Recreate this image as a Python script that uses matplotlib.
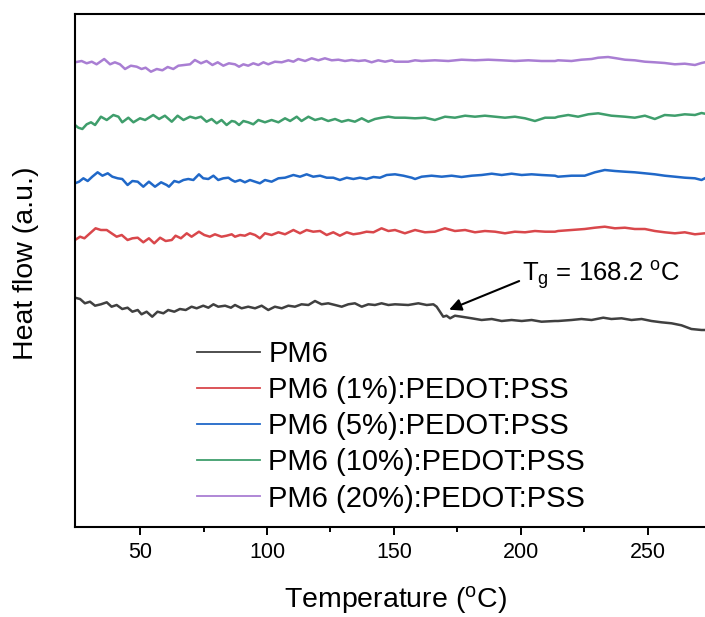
import matplotlib
matplotlib.use('Agg')
import matplotlib.pyplot as plt

plt.rcParams['font.family'] = ['Liberation Sans', 'DejaVu Sans']
plt.rcParams['mathtext.fontset'] = 'custom'
plt.rcParams['mathtext.rm'] = 'Liberation Sans'
plt.rcParams['mathtext.it'] = 'Liberation Sans:italic'

# DSC curves, heat flow in arbitrary units (already stacked)
t_pm6 = [24.4, 26.4, 28.3, 30.3, 32.3, 34.6, 36.9, 38.8, 40.8, 43.0, 45.1, 47.0, 49.1, 50.6, 52.6, 54.8,
         56.9, 59.2, 61.1, 63.5, 65.7, 68.0, 70.3, 72.3, 74.9, 76.9, 78.9, 80.8, 83.5, 85.8, 87.4,
         90.0, 92.6, 95.3, 97.9, 100.5, 103.1, 105.8, 108.4, 111.0, 113.6, 116.3, 118.9, 121.5, 124.1,
         126.8, 129.4, 132.0, 134.6, 137.3, 139.9, 142.5, 145.1, 147.8, 150.4,
         155.6, 159.6, 162.9, 165.5, 166.8, 168.1, 169.4, 170.7, 172.1, 174.0, 176.6, 180.6, 184.5,
         188.5, 192.4, 196.3, 200.3, 204.2, 208.1, 213.4,
         214.6, 219.9, 223.8, 227.8, 232.4, 235.6, 239.6, 243.5, 247.5, 251.4, 255.3, 259.3, 263.2,
         267.1, 271.1, 272.4]
hf_pm6 = [229.3, 228, 223.7, 225.3, 221.3, 222.7, 224.7, 220.3, 222, 218, 219.3, 215.3, 217, 212.7, 215.3,
          210.3, 215.3, 213.7, 217, 215.3, 218, 217, 220.3, 218.7, 221.3, 219.3, 222.7, 220.3, 221.3, 219.3, 222,
          218.7, 220.3, 218.7, 221.3, 217, 220.3, 218.7, 221.3, 220.3, 222.7, 222, 226, 222.7, 223.7,
          222, 220.3, 222.7, 223.7, 220.3, 222.7, 222, 223.7, 222, 222.7,
          222, 223.7, 222, 222.7, 220.3, 215.3, 210.3, 211.3, 208.7, 211.3, 210.3, 208.7, 207,
          208, 206, 207, 206, 207, 205.3, 206,
          206, 207, 208, 207, 209.3, 208, 208.7, 207, 208, 206, 204.7, 203.7, 201.7,
          198, 197, 197]

t_1 = [24.4, 26.4, 28.1, 30.3, 32.5, 34.6, 36.9, 38.8, 40.8, 42.8, 45.1, 47.0, 49.1, 51.3, 53.5, 55.6,
       57.9, 60.1, 62.5, 64.0, 66.1, 68.4, 70.3, 73.2, 75.3, 77.5, 79.5, 82.1, 84.1, 86.1, 87.4,
       89.4, 91.3, 93.3, 95.3, 97.2, 99.2, 101.8, 104.5, 107.1, 110.4, 113.0, 115.6, 118.2, 120.9,
       123.5, 126.1, 128.7, 131.4, 134.0, 136.6, 139.2, 141.9, 145.1, 147.8, 150.4,
       154.3, 158.3, 162.2, 166.1, 170.1, 174.0, 178.0, 181.9, 185.8, 189.8, 193.7, 197.6, 201.6,
       205.5, 209.5, 213.4,
       214.6, 219.9, 225.1, 229.1, 233.0, 237.0, 240.9, 244.8, 248.8, 252.7, 256.6, 260.6, 264.5,
       268.5, 272.4]
hf_1 = [287, 290.3, 288.7, 293.7, 298.7, 297, 297, 293.7, 290.3, 292, 287, 288.7, 289.3, 284.7, 288.7,
        283.7, 289.3, 286, 287, 291.3, 288.7, 293.7, 290.3, 295.3, 292, 290.3, 292.7, 290.3, 291.3, 292.7, 290.3,
        292, 291.3, 293.7, 292, 288.7, 293.7, 292, 294.7, 292.7, 297, 293.7, 297, 295.3, 296,
        292, 294.7, 291.3, 294.7, 292.7, 293.7, 295.3, 294.7, 298.7, 296, 297,
        293.7, 297, 294.7, 295.3, 298.7, 296, 297, 294.7, 296, 295.3, 293.7, 295.3, 294.7,
        296, 295.3, 295.3,
        296, 297, 298, 299.3, 300.3, 298.7, 299.3, 298, 298, 296, 294.7, 293.7, 294.7,
        292.7, 293.7]

t_5 = [24.4, 26.0, 27.7, 29.4, 31.2, 33.3, 35.2, 37.3, 39.1, 41.2, 43.0, 45.1, 47.0, 49.1, 51.3, 53.5,
       55.9, 58.3, 60.5, 61.4, 63.5, 65.3, 67.1, 69.0, 71.0, 73.2, 74.9, 76.9, 78.9, 80.8, 82.8, 84.8,
       86.1, 87.4,
       89.4, 91.3, 93.3, 95.3, 97.2, 99.2, 101.8, 104.5, 107.1, 110.4, 113.0, 115.6, 118.2, 120.9,
       123.5, 126.1, 128.7, 131.4, 134.0, 136.6, 139.2, 141.9, 144.5, 147.1, 150.4,
       153.7, 157.0, 158.3, 160.9, 164.8, 168.8, 172.7, 176.6, 180.6, 184.5, 188.5, 192.4, 196.3,
       200.3, 204.2, 208.1, 213.4,
       214.6, 219.9, 225.1, 229.1, 233.0, 237.0, 240.9, 244.8, 248.8, 252.7, 256.6, 260.6, 264.5,
       268.5, 271.1, 272.4]
hf_5 = [343.7, 345.3, 348.7, 346, 350.3, 354.7, 351.3, 353.7, 350.3, 348.7, 348, 342, 346, 345.3, 340.3,
        345.3, 340.3, 344.7, 342, 340.3, 346, 344.7, 347, 348, 347, 352.7, 348.7, 348, 351.3, 347, 348.7,
        349.3, 347, 345.3,
        347, 344.7, 347, 345.3, 343.7, 347, 345.3, 348.7, 349.3, 352, 350.3, 352.7, 350.3, 351.3,
        349.3, 349.3, 347, 349.3, 348, 349.3, 348, 350, 349.3, 352, 352.7,
        351.3, 349.3, 348, 350.3, 351.3, 350.3, 351.3, 350, 351.3, 352, 353.3, 352, 353.3,
        352, 352.7, 352, 351.3,
        350.3, 351.3, 351.3, 354.7, 357, 356, 355.3, 354.7, 353.7, 352.7, 351.3, 350.3, 349.3,
        348.7, 347, 348.7]

t_10 = [24.4, 25.7, 27.3, 29.0, 30.7, 32.3, 34.6, 36.9, 39.5, 41.5, 43.0, 45.4, 47.4, 50.0, 52.0, 55.2,
        57.5, 59.8, 62.5, 64.8, 67.1, 69.7, 71.9, 74.0, 76.2, 78.2, 80.2, 82.1, 84.1, 86.1, 87.4,
        89.0, 90.7, 92.6, 94.6, 96.6, 99.2, 101.8, 104.5, 107.1, 109.1, 111.7, 113.6, 116.3, 118.9,
        121.5, 124.1, 126.8, 129.4, 132.0, 134.6, 137.3, 139.9, 142.5, 145.1, 147.8, 150.4,
        154.3, 158.3, 162.2, 166.1, 170.1, 174.0, 178.0, 181.9, 185.8, 189.8, 193.7, 197.6, 201.6,
        205.5, 209.5, 213.4,
        214.6, 218.6, 222.5, 226.5, 230.4, 235.6, 240.9, 244.8, 248.8, 252.7, 256.6, 260.6, 264.5,
        268.5, 271.1, 272.4]
hf_10 = [402, 399.3, 398, 402.7, 404.7, 402, 410.3, 407, 412, 410.3, 404.7, 409.3, 404.7, 408.7, 407,
         412, 408, 411.3, 405.3, 411.3, 407, 410.3, 408.7, 410.3, 405.3, 408, 403.7, 407, 402, 406, 405.3,
         402, 406, 404.7, 402.7, 407, 404.7, 407, 404.7, 408.7, 406, 410.3, 406, 410.3, 407,
         408.7, 406, 408, 405.3, 407, 405.3, 408.7, 405.3, 408, 409.3, 410.3, 409.3,
         409.3, 408.7, 409.3, 407, 410.3, 409.3, 411.3, 410.3, 411.3, 410.3, 409.3, 410.3, 408.7,
         406, 409.3, 409.3,
         410.3, 412, 410.3, 412.7, 413.7, 411.3, 410.3, 409.3, 411.3, 408, 412, 411.3, 412.7,
         412, 414, 413.3]

t_20 = [24.4, 27.0, 29.0, 31.0, 32.9, 35.9, 38.2, 40.1, 42.1, 44.1, 46.4, 48.7, 50.6, 52.2, 54.3, 56.6,
        58.8, 60.9, 63.1, 65.1, 67.4, 69.7, 71.6, 74.0, 76.2, 78.5, 80.6, 82.8, 85.0, 87.4,
        89.0, 90.7, 92.6, 94.6, 96.6, 98.6, 100.5, 103.1, 105.8, 108.4, 110.4, 112.3, 115.0, 117.6,
        120.2, 122.8, 125.5, 128.1, 130.7, 133.3, 136.0, 138.6, 141.2, 143.8, 146.5, 149.1, 150.4,
        155.6, 158.3, 160.9, 166.1, 171.4, 176.6, 181.9, 187.1, 192.4, 197.6, 202.9, 208.1, 213.4,
        214.6, 219.9, 223.8, 227.8, 230.4, 234.3, 237.6, 240.9, 244.8, 248.8, 252.7, 256.6, 260.6,
        264.5, 268.5, 271.1, 272.4]
hf_20 = [464.7, 466, 463.7, 465.3, 462.7, 468, 462.7, 464.7, 462.7, 458, 461.3, 460.3, 458, 459.3, 455.3,
         458, 456.7, 460, 458, 461.3, 462, 462.7, 467, 463.7, 466, 462, 464.7, 461.3, 463.7, 462.7,
         460.3, 462.7, 461.3, 463.7, 462, 464.7, 462.7, 465.3, 464.7, 466.7, 465.3, 468, 466, 468.7,
         466.7, 468.7, 466.7, 467.3, 466, 467, 466, 466.7, 464.7, 466.7, 465.3, 466.7, 465.3,
         465.3, 466.7, 466, 466.7, 466, 467.3, 466.7, 467.3, 466.7, 466, 466.7, 466, 466,
         466.7, 466, 467.3, 468, 469.3, 470, 468.7, 467.3, 466.7, 465.3, 464.7, 464, 462.7,
         463.3, 462, 464, 464.7]

labels = ['PM6', 'PM6 (1%):PEDOT:PSS', 'PM6 (5%):PEDOT:PSS', 'PM6 (10%):PEDOT:PSS', 'PM6 (20%):PEDOT:PSS']
colors = ['#404040', '#d9474b', '#2068c8', '#3f9e6c', '#a97ed3']
series = [(t_pm6, hf_pm6), (t_1, hf_1), (t_5, hf_5), (t_10, hf_10), (t_20, hf_20)]

fig = plt.figure(figsize=(7.05, 6.17), dpi=100)
ax = fig.add_axes([75 / 705, 1 - 527 / 617, 640 / 705, 513 / 617])

for (t, hf), c, lab in zip(series, colors, labels):
    ax.plot(t, hf, color=c, lw=1.8, label=lab)

ax.set_xlim(24.4, 276.4)
ax.set_ylim(0, 513)

ax.spines['right'].set_visible(False)
for s in ['left', 'top', 'bottom']:
    ax.spines[s].set_linewidth(1.5)

ax.set_xticks([50, 100, 150, 200, 250])
ax.set_xticks([75, 125, 175, 225], minor=True)
ax.tick_params(axis='x', which='major', direction='out', length=6, width=1.4, labelsize=15.5, pad=5)
ax.tick_params(axis='x', which='minor', direction='out', length=3.5, width=1.4)
ax.set_yticks([])

ax.set_xlabel(r'Temperature ($^{\mathrm{o}}$C)', fontsize=20.5, labelpad=15)
ax.set_ylabel('Heat flow (a.u.)', fontsize=20.5)
ax.yaxis.set_label_coords(-0.056, 0.515)

# Tg marker on the PM6 curve
ax.annotate('', xy=(170.7, 216.3), xytext=(200.3, 247),
            arrowprops=dict(arrowstyle='-|>', color='k', lw=1.5, mutation_scale=18))
ax.text(200.5, 245, r'T$_{\mathrm{g}}$ = 168.2 $^{\mathrm{o}}$C', fontsize=18.5, va='baseline', ha='left')

leg = ax.legend(loc='upper left', bbox_to_anchor=(197 / 705, 1 - 340 / 617), bbox_transform=fig.transFigure,
                frameon=False, fontsize=21, handlelength=2.15, handletextpad=0.3, labelspacing=0.28,
                borderpad=0, borderaxespad=0)
for line in leg.get_lines():
    line.set_linewidth(1.3)

fig.savefig('out.png', dpi=100)
